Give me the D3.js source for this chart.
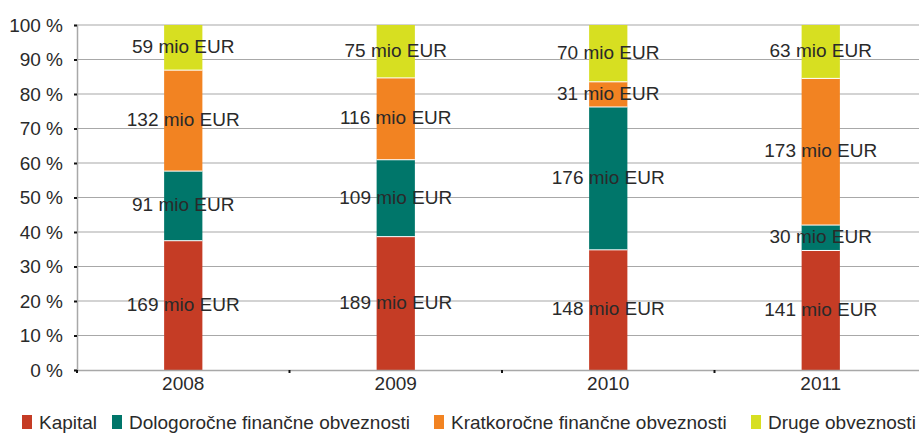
<!DOCTYPE html>
<html>
<head>
<meta charset="utf-8">
<script src="https://cdn.jsdelivr.net/npm/d3@7"></script>
<style>
  body { margin: 0; background: #fff; }
  text { font-family: "Liberation Sans", Arial, sans-serif; fill: #2a2a2a; }
</style>
</head>
<body>
<div id="main"></div>
<script>
const years = ["2008", "2009", "2010", "2011"];
const seriesNames = ["Kapital", "Dologoročne finančne obveznosti", "Kratkoročne finančne obveznosti", "Druge obveznosti"];
const kapital = [169, 189, 148, 141];
const dolgorocne = [91, 109, 176, 30];
const kratkorocne = [132, 116, 31, 173];
const druge = [59, 75, 70, 63];
const yTicks = [0, 10, 20, 30, 40, 50, 60, 70, 80, 90, 100];
const colors = ["#c53c25", "#00766a", "#f28322", "#d7df21"];

const width = 919;
const height = 433;
const plotLeft = 77;
const plotTop = 25;
const plotBottom = 370;
const plotRight = plotLeft + 850;
const fontSize = "19px";

const rows = years.map((y, i) => ({
  year: y,
  s0: kapital[i], s1: dolgorocne[i], s2: kratkorocne[i], s3: druge[i]
}));
const keys = ["s0", "s1", "s2", "s3"];

const stacked = d3.stack()
  .keys(keys)
  .offset(d3.stackOffsetExpand)(rows);

const xScale = d3.scaleBand()
  .domain(years)
  .range([plotLeft, plotRight])
  .paddingInner(0.82)
  .paddingOuter(0.41);

const yScale = d3.scaleLinear()
  .domain([0, 1])
  .range([plotBottom, plotTop]);

const svg = d3.select("#main")
  .append("svg")
  .attr("width", width)
  .attr("height", height);

// grid
svg.append("g")
  .selectAll("line")
  .data(yTicks.filter(d => d > 0))
  .enter()
  .append("line")
  .attr("x1", plotLeft)
  .attr("x2", plotRight)
  .attr("y1", d => yScale(d / 100))
  .attr("y2", d => yScale(d / 100))
  .attr("stroke", "#a8a8a8")
  .attr("stroke-width", 1.2);

// bars
svg.append("g")
  .selectAll("g")
  .data(stacked)
  .enter()
  .append("g")
  .attr("fill", (d, i) => colors[i])
  .selectAll("rect")
  .data(d => d)
  .enter()
  .append("rect")
  .attr("x", d => xScale(d.data.year))
  .attr("y", d => yScale(d[1]))
  .attr("width", xScale.bandwidth())
  .attr("height", d => yScale(d[0]) - yScale(d[1]));

// separators between segments
svg.append("g")
  .selectAll("line")
  .data(stacked.slice(0, 3).flatMap(s => s.map(d => d)))
  .enter()
  .append("line")
  .attr("x1", d => xScale(d.data.year))
  .attr("x2", d => xScale(d.data.year) + xScale.bandwidth())
  .attr("y1", d => yScale(d[1]))
  .attr("y2", d => yScale(d[1]))
  .attr("stroke", "#fff")
  .attr("stroke-width", 1);

// value labels
svg.append("g")
  .selectAll("g")
  .data(stacked)
  .enter()
  .append("g")
  .selectAll("text")
  .data(s => s.map(d => ({ d: d, key: s.key })))
  .enter()
  .append("text")
  .attr("x", o => xScale(o.d.data.year) + xScale.bandwidth() / 2)
  .attr("y", o => (yScale(o.d[0]) + yScale(o.d[1])) / 2)
  .attr("dy", "0.28em")
  .attr("text-anchor", "middle")
  .style("font-size", fontSize)
  .text(o => o.d.data[o.key] + " mio EUR");

// y axis
const yAxis = d3.axisLeft(yScale)
  .tickValues(yTicks.map(d => d / 100))
  .tickFormat(d => Math.round(d * 100) + " %")
  .tickSize(3)
  .tickPadding(11);

const gy = svg.append("g")
  .attr("transform", "translate(" + plotLeft + ",0)")
  .call(yAxis);
gy.select(".domain").attr("stroke", "#a8a8a8").attr("stroke-width", 1.5);
gy.selectAll(".tick line").attr("stroke", "#111").attr("stroke-width", 2);
gy.selectAll(".tick text").style("font-size", fontSize).attr("fill", "#2a2a2a");

// x axis
const xAxis = d3.axisBottom(xScale)
  .tickSize(0)
  .tickPadding(7);

const gx = svg.append("g")
  .attr("transform", "translate(0," + plotBottom + ")")
  .call(xAxis);
gx.select(".domain").attr("stroke", "#a8a8a8").attr("stroke-width", 1.5);
gx.selectAll(".tick text").style("font-size", fontSize).attr("fill", "#2a2a2a");

// category boundary ticks
const step = xScale.step();
svg.append("g")
  .selectAll("line")
  .data(d3.range(years.length + 1))
  .enter()
  .append("line")
  .attr("x1", i => plotLeft + i * step)
  .attr("x2", i => plotLeft + i * step)
  .attr("y1", plotBottom)
  .attr("y2", plotBottom + 3)
  .attr("stroke", "#111")
  .attr("stroke-width", 2);

// legend
const legendX = [22, 112, 434, 751];
const legend = svg.append("g")
  .selectAll("g")
  .data(seriesNames)
  .enter()
  .append("g")
  .attr("transform", (d, i) => "translate(" + legendX[i] + ",415)");

legend.append("rect")
  .attr("width", 10)
  .attr("height", 14)
  .attr("fill", (d, i) => colors[i]);

legend.append("text")
  .attr("x", 17)
  .attr("y", 7)
  .attr("dy", "0.36em")
  .style("font-size", fontSize)
  .text(d => d);
</script>
</body>
</html>
